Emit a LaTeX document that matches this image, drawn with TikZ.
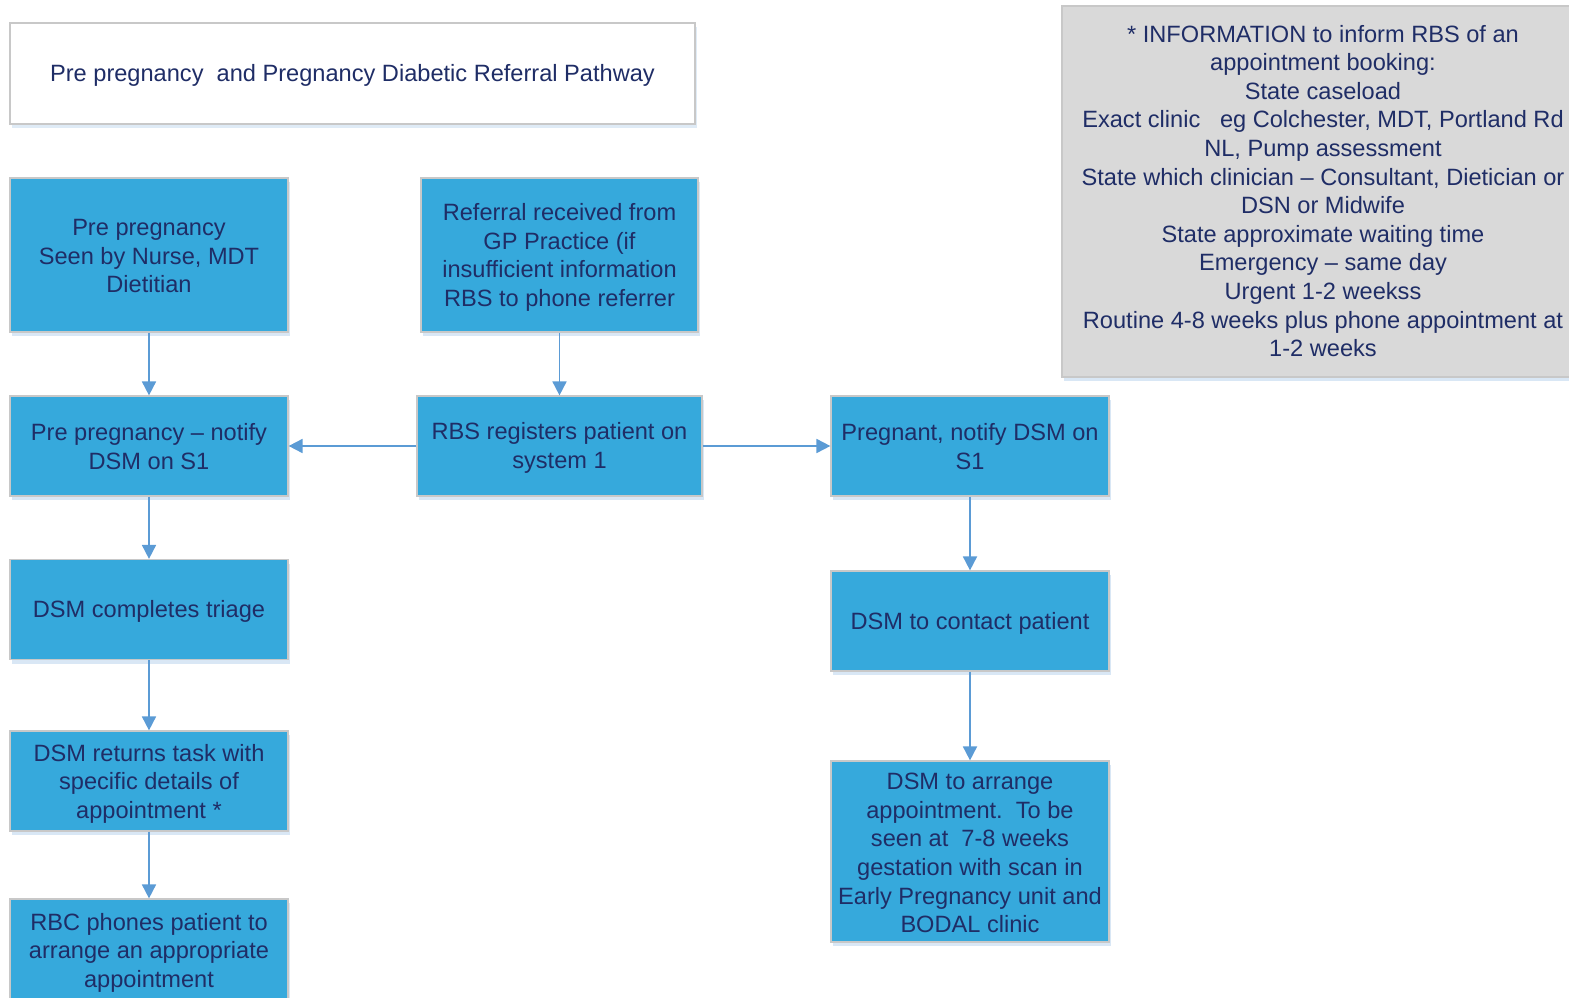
\documentclass[tikz,border=0pt]{standalone}
\usepackage{fontspec}
\setmainfont{Liberation Sans}
\usetikzlibrary{arrows.meta,shadows}
\definecolor{boxblue}{HTML}{36A9DC}
\definecolor{navytext}{HTML}{1F2D66}
\definecolor{edgegray}{HTML}{C8C8C8}
\definecolor{arrowblue}{HTML}{5B9BD5}
\definecolor{notegray}{HTML}{D9D9D9}
\definecolor{shadowblue}{HTML}{BFD7EE}
\begin{document}
\begin{tikzpicture}[x=1pt,y=-1pt,
  every node/.style={font=\fontsize{23.6}{28.6}\selectfont, text=navytext, align=center, inner sep=0pt},
  stepbox/.style={draw=edgegray, line width=1.2pt, fill=boxblue,
    drop shadow={shadow xshift=2pt, shadow yshift=-4pt, fill=shadowblue, opacity=0.6}},
  flow/.style={draw=arrowblue, line width=1.8pt, -{Triangle[length=14pt,width=14pt]}}
]
\useasboundingbox (0,0) rectangle (1569,998);
\clip (0,0) rectangle (1569,998);

% title
\node[draw=edgegray, line width=1.2pt, fill=white,
  drop shadow={shadow xshift=2pt, shadow yshift=-4pt, fill=shadowblue, opacity=0.5},
  minimum width=685pt, minimum height=101pt] (title) at (352.5,73.5) {};
\node (titletext) at (352.5,75)
  {Pre pregnancy\ \ and Pregnancy Diabetic Referral Pathway};

% information panel
\node[draw=edgegray, line width=1.2pt, fill=notegray,
  drop shadow={shadow xshift=2pt, shadow yshift=-4pt, fill=shadowblue, opacity=0.6},
  minimum width=530pt, minimum height=371pt] (info) at (1327,191.5) {};
\node (infotext) at (1323,191) {* INFORMATION to inform RBS of an\\
appointment booking:\\
State caseload\\
Exact clinic\ \ \ eg Colchester, MDT, Portland Rd\\
NL, Pump assessment\\
State which clinician -- Consultant, Dietician or\\
DSN or Midwife\\
State approximate waiting time\\
Emergency -- same day\\
Urgent 1-2 weekss\\
Routine 4-8 weeks plus phone appointment at\\
1-2 weeks};

% left column
\node[stepbox, minimum width=278pt, minimum height=154pt] (pre) at (149,255) {};
\node (pretext) at (149,256) {Pre pregnancy\\Seen by Nurse, MDT\\Dietitian};
\node[stepbox, minimum width=278pt, minimum height=100pt] (prenotify) at (149,446) {};
\node (prenotifytext) at (149,446.5) {Pre pregnancy -- notify\\DSM on S1};
\node[stepbox, minimum width=278pt, minimum height=100pt] (triage) at (149,609.5) {};
\node (triagetext) at (149,611) {DSM completes triage};
\node[stepbox, minimum width=278pt, minimum height=100pt] (returns) at (149,781) {};
\node (returnstext) at (149,783.5) {DSM returns task with\\specific details of\\appointment *};
\node[stepbox, minimum width=278pt, minimum height=112pt] (phones) at (149,955) {};
\node (phonestext) at (149,952.5) {RBC phones patient to\\arrange an appropriate\\appointment};

% centre column
\node[stepbox, minimum width=277pt, minimum height=154pt] (referral) at (559.5,255) {};
\node (referraltext) at (559.5,257.5)
  {Referral received from\\GP Practice (if\\insufficient information\\RBS to phone referrer};
\node[stepbox, minimum width=285pt, minimum height=100pt] (register) at (559.5,446) {};
\node (registertext) at (559.5,448) {RBS registers patient on\\system 1};

% right column
\node[stepbox, minimum width=278pt, minimum height=100pt] (pregnant) at (970,446) {};
\node (pregnanttext) at (970,446.5) {Pregnant, notify DSM on\\S1};
\node[stepbox, minimum width=278pt, minimum height=100pt] (contact) at (970,621) {};
\node (contacttext) at (970,623) {DSM to contact patient};
\node[stepbox, minimum width=278pt, minimum height=181pt] (arrange) at (970,851.5) {};
\node (arrangetext) at (970,853)
  {DSM to arrange\\appointment.\ \ To be\\seen at\ \ 7-8 weeks\\gestation with scan in\\Early Pregnancy unit and\\BODAL clinic};

% connectors
\draw[flow] (pre) -- (prenotify);
\draw[flow] (prenotify) -- (triage);
\draw[flow] (triage) -- (returns);
\draw[flow] (returns) -- (phones);
\draw[flow] (referral.south) -- (register.north -| referral.south);
\draw[flow] (register) -- (prenotify);
\draw[flow] (register) -- (pregnant);
\draw[flow] (pregnant) -- (contact);
\draw[flow] (contact) -- (arrange);
\end{tikzpicture}
\end{document}
